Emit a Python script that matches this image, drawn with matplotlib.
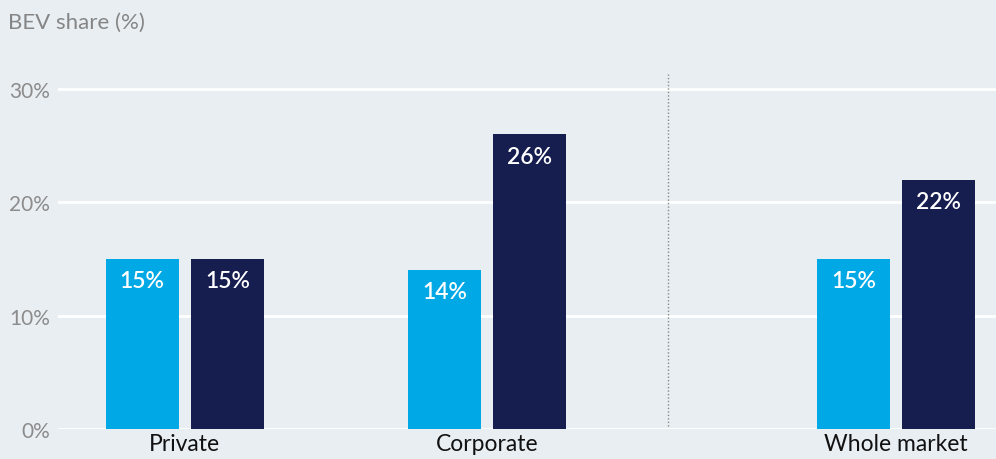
import matplotlib
matplotlib.use("Agg")
import matplotlib.pyplot as plt
from matplotlib.ticker import FuncFormatter

categories = ["Private", "Corporate", "Whole market"]
series_a = [15, 14, 15]   # light blue
series_b = [15, 26, 22]   # dark navy
yticks = [0, 10, 20, 30]

plt.rcParams['font.family'] = ['Lato', 'DejaVu Sans']

BG = "#e9eef3"
LIGHT = "#00a9e6"
DARK = "#161e50"

fig = plt.figure(figsize=(9.96, 4.6), dpi=100, facecolor=BG)
ax = fig.add_axes([58/996, 30/460, 938/996, 355/460])
ax.set_facecolor(BG)

pos = [0, 1, 2.355]
w = 0.242
off = 0.141

ax.set_ylim(0, 31.33)
ax.set_xlim(-0.42, 2.685)
ax.set_yticks(yticks)
ax.yaxis.set_major_formatter(FuncFormatter(lambda v, p: f"{int(v)}%"))
ax.grid(axis='y', color='white', linewidth=2)
ax.set_axisbelow(True)
for s in ax.spines.values():
    s.set_visible(False)
ax.tick_params(axis='y', length=0, pad=6, labelsize=15, labelcolor="#8c8c8c")
ax.tick_params(axis='x', length=0, pad=3, labelsize=16.5, labelcolor="#111111")
ax.set_xticks(pos)
ax.set_xticklabels(categories)

b1 = ax.bar([p - off for p in pos], series_a, width=w, color=LIGHT, zorder=3)
b2 = ax.bar([p + off for p in pos], series_b, width=w, color=DARK, zorder=3)
for bars, vals in ((b1, series_a), (b2, series_b)):
    for r, v in zip(bars, vals):
        ax.annotate(f"{v}%", (r.get_x() + r.get_width()/2, v), xytext=(0, -8),
                    textcoords='offset points', ha='center', va='top',
                    color='white', fontsize=16.5, fontweight='semibold', zorder=4)

ax.axvline(1.599, ymin=0.008, ymax=1.0, color="#888888", linestyle=(0, (1, 1.5)),
           linewidth=1, zorder=2)

fig.text(8/996, 1 - 23/460, "BEV share (%)", ha='left', va='center',
         fontsize=16, color="#858585")

fig.savefig("out.png", dpi=100, facecolor=BG)
